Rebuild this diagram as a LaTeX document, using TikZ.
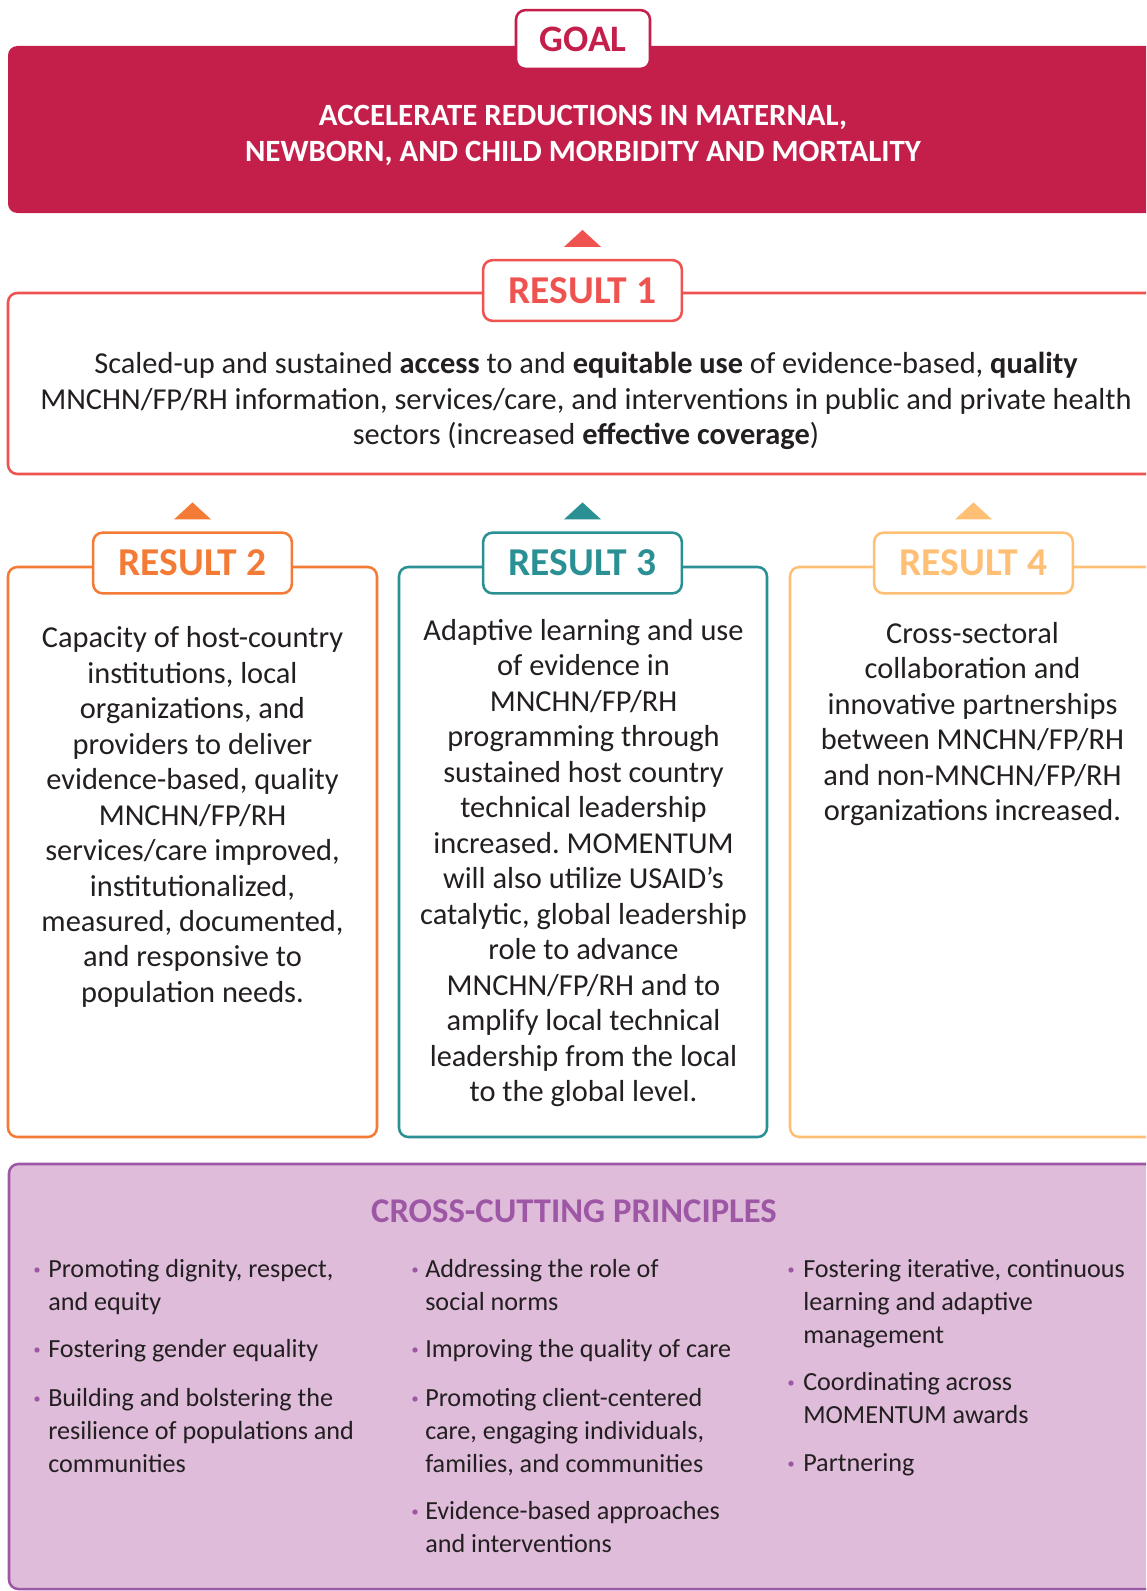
\documentclass[tikz,border=0pt]{standalone}
\usepackage{fontspec}
\setmainfont{Carlito}
\frenchspacing
\definecolor{goalred}{HTML}{C41F4B}
\definecolor{resone}{HTML}{EF5350}
\definecolor{restwo}{HTML}{F47B36}
\definecolor{resthree}{HTML}{2A9093}
\definecolor{resfour}{HTML}{FFC075}
\definecolor{ccpurple}{HTML}{9E57A4}
\definecolor{ccfill}{HTML}{DEBCDA}
\definecolor{bodyink}{HTML}{231F20}
\tikzset{
    frame/.style={draw=#1, line width=1.9pt, rounded corners=7pt, fill=white},
    tab/.style={draw=#1, line width=1.9pt, rounded corners=7pt, fill=white, text=#1, font=\fontsize{29.6}{31}\selectfont\bfseries, minimum width=149pt, minimum height=45.5pt, inner sep=0pt},
    body/.style={align=center, text=bodyink, font=\fontsize{22.8}{26.6}\selectfont, inner sep=0pt},
    item/.style={anchor=base west, align=left, text=bodyink, font=\fontsize{19.6}{24.75}\selectfont, inner sep=0pt},
    dot/.style={circle, fill=ccpurple, inner sep=0pt, minimum size=4pt},
}

\begin{document}
\begin{tikzpicture}[x=0.75pt, y=-0.75pt]
\useasboundingbox (0,0) rectangle (1146,1591);
\clip (0,0) rectangle (1146,1591);

% Goal banner
\fill[goalred, rounded corners=7pt] (8,46) rectangle (1180,213);
\node[tab=goalred, font=\fontsize{28}{30}\selectfont\bfseries, minimum width=100.5pt, minimum height=44pt] (goal) at (583,39.5) {GOAL};
\node[align=center, text=white, font=\fontsize{23.2}{27}\selectfont\bfseries] (goaltxt) at (583,135)
    {ACCELERATE REDUCTIONS IN MATERNAL,\\NEWBORN, AND CHILD MORBIDITY AND MORTALITY};

% Result 1
\draw[frame=resone] (8,293) rectangle (1180,474);
\node[tab=resone] (r1) at (582.5,290.5) {RESULT 1};
\fill[resone] ([yshift=9pt]r1.north) ++(-18.5,0) -- ++(37,0) -- ++(-18.5,-17) -- cycle;
\node[body] (r1txt) at (586,401)
    {Scaled-up and sustained \textbf{access} to and \textbf{equitable use} of evidence-based, \textbf{quality}\\
     MNCHN/FP/RH information, services/care, and interventions in public and private health\\
     sectors (increased \textbf{effective coverage})};

% Results 2-4
\draw[frame=restwo] (8,567) rectangle (377,1137);
\draw[frame=resthree] (399,567) rectangle (767,1137);
\draw[frame=resfour] (790,567) rectangle (1180,1137);

\node[tab=restwo] (r2) at (192.5,563) {RESULT 2};
\node[tab=resthree] (r3) at (582.5,563) {RESULT 3};
\node[tab=resfour] (r4) at (973.5,563) {RESULT 4};

\fill[restwo] ([yshift=9pt]r2.north) ++(-18.5,0) -- ++(37,0) -- ++(-18.5,-17) -- cycle;
\fill[resthree] ([yshift=9pt]r3.north) ++(-18.5,0) -- ++(37,0) -- ++(-18.5,-17) -- cycle;
\fill[resfour] ([yshift=9pt]r4.north) ++(-18.5,0) -- ++(37,0) -- ++(-18.5,-17) -- cycle;

\node[body] (r2txt) at (192.5,817)
    {Capacity of host-country\\institutions, local\\organizations, and\\providers to deliver\\
     evidence-based, quality\\MNCHN/FP/RH\\services/care improved,\\institutionalized,\\
     measured, documented,\\and responsive to\\population needs.};
\node[body] (r3txt) at (583.5,863)
    {Adaptive learning and use\\of evidence in\\MNCHN/FP/RH\\programming through\\
     sustained host country\\technical leadership\\increased. MOMENTUM\\will also utilize USAID’s\\
     catalytic, global leadership\\role to advance\\MNCHN/FP/RH and to\\amplify local technical\\
     leadership from the local\\to the global level.};
\node[body] (r4txt) at (972.5,724)
    {Cross-sectoral\\collaboration and\\innovative partnerships\\between MNCHN/FP/RH\\
     and non-MNCHN/FP/RH\\organizations increased.};

% Cross-cutting principles (items sit on the baseline of their last line)
\filldraw[draw=ccpurple, fill=ccfill, line width=1.9pt, rounded corners=7pt] (9,1164) rectangle (1180,1589);
\node[text=ccpurple, font=\fontsize{26}{30}\selectfont\bfseries] (cchead) at (574,1211) {CROSS-CUTTING PRINCIPLES};

\node[item] (pa1) at (48,1310) {Promoting dignity, respect,\\and equity};
\node[item] (pa2) at (48,1357) {Fostering gender equality};
\node[item] (pa3) at (48,1472) {Building and bolstering the\\resilience of populations and\\communities};
\node[item] (pb1) at (425,1310) {Addressing the role of\\social norms};
\node[item] (pb2) at (425,1357) {Improving the quality of care};
\node[item] (pb3) at (425,1472) {Promoting client-centered\\care, engaging individuals,\\families, and communities};
\node[item] (pb4) at (425,1552) {Evidence-based approaches\\and interventions};
\node[item] (pc1) at (803,1343) {Fostering iterative, continuous\\learning and adaptive\\management};
\node[item] (pc2) at (803,1423) {Coordinating across\\MOMENTUM awards};
\node[item] (pc3) at (803,1471) {Partnering};

\node[dot] at (37,1270) {};
\node[dot] at (37,1350) {};
\node[dot] at (37,1399) {};
\node[dot] at (415,1270) {};
\node[dot] at (415,1350) {};
\node[dot] at (415,1399) {};
\node[dot] at (415,1512) {};
\node[dot] at (791,1270) {};
\node[dot] at (791,1383) {};
\node[dot] at (791,1464) {};

\end{tikzpicture}
\end{document}
